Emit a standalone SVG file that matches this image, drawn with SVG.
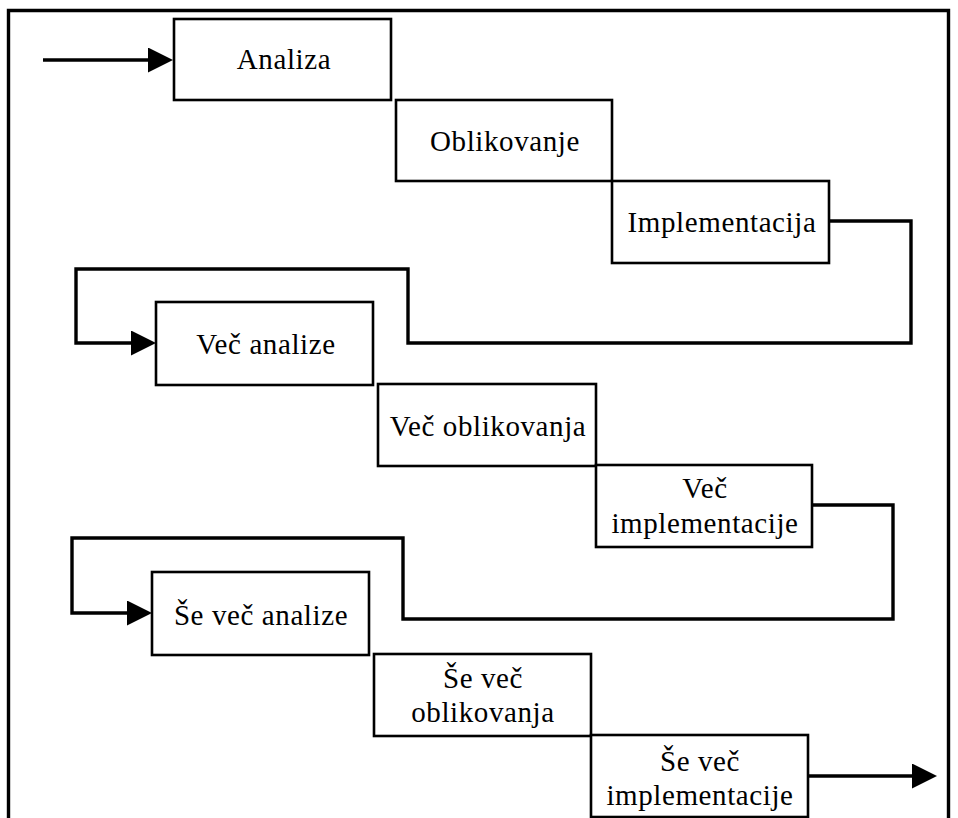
<svg xmlns="http://www.w3.org/2000/svg" width="958" height="818" viewBox="0 0 958 818">
  <style>
    .box { fill: #ffffff; stroke: #000000; stroke-width: 2.6; }
    .wire { fill: none; stroke: #000000; stroke-width: 3.4; stroke-linejoin: miter; }
    .frame { fill: none; stroke: #000000; stroke-width: 3.4; }
    .label { font-family: "Liberation Serif", "Times New Roman", serif; font-size: 29px; letter-spacing: 0.6px; fill: #000000; text-anchor: middle; }
  </style>
  <defs>
    <marker id="head" markerUnits="userSpaceOnUse" markerWidth="26" markerHeight="26" refX="2" refY="12.5" orient="auto">
      <path d="M0,0 L25,12.5 L0,25 Z" fill="#000000"/>
    </marker>
  </defs>

  <rect width="958" height="818" fill="#ffffff"/>

  <!-- outer border, open at the bottom -->
  <path class="frame" d="M8.5,818 V10.5 H948.5 V818"/>

  <!-- connectors -->
  <g id="connectors">
    <path class="wire" d="M43,60 H150" marker-end="url(#head)"/>
    <path class="wire" d="M829,221 H911 V343 H408 V269 H76 V343 H133" marker-end="url(#head)"/>
    <path class="wire" d="M812,505 H893 V619 H403 V538 H72 V613 H129" marker-end="url(#head)"/>
    <path class="wire" d="M808,776 H914" marker-end="url(#head)"/>
  </g>

  <!-- first pass -->
  <g id="analiza">
    <rect class="box" x="174" y="19" width="217" height="81"/>
    <text class="label" x="284" y="69">Analiza</text>
  </g>
  <g id="oblikovanje">
    <rect class="box" x="396" y="100" width="216" height="81"/>
    <text class="label" x="505" y="151">Oblikovanje</text>
  </g>
  <g id="implementacija">
    <rect class="box" x="612" y="181" width="217" height="82"/>
    <text class="label" x="722" y="232">Implementacija</text>
  </g>

  <!-- second pass -->
  <g id="vec-analize">
    <rect class="box" x="156" y="302" width="217" height="83"/>
    <text class="label" x="266" y="354">Več analize</text>
  </g>
  <g id="vec-oblikovanja">
    <rect class="box" x="378" y="384" width="218" height="82"/>
    <text class="label" x="488" y="436">Več oblikovanja</text>
  </g>
  <g id="vec-implementacije">
    <rect class="box" x="596" y="465" width="216" height="82"/>
    <text class="label" x="705" y="498">Več</text>
    <text class="label" x="705" y="533">implementacije</text>
  </g>

  <!-- third pass -->
  <g id="se-vec-analize">
    <rect class="box" x="152" y="572" width="217" height="83"/>
    <text class="label" x="261" y="625">Še več analize</text>
  </g>
  <g id="se-vec-oblikovanja">
    <rect class="box" x="374" y="654" width="217" height="82"/>
    <text class="label" x="483" y="688">Še več</text>
    <text class="label" x="483" y="722">oblikovanja</text>
  </g>
  <g id="se-vec-implementacije">
    <rect class="box" x="591" y="735" width="217" height="82"/>
    <text class="label" x="700" y="771">Še več</text>
    <text class="label" x="700" y="805">implementacije</text>
  </g>
</svg>
